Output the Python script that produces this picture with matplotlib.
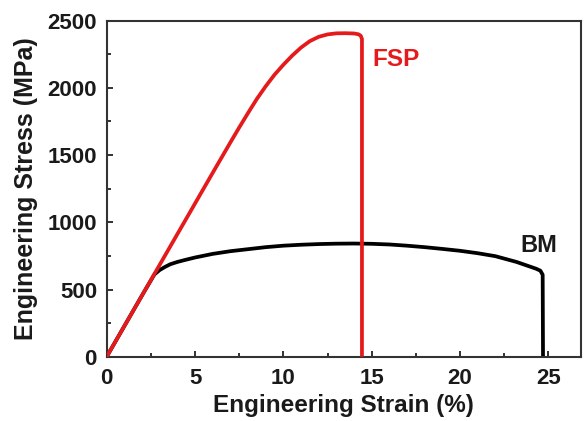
import matplotlib
matplotlib.use("Agg")
import matplotlib.pyplot as plt
from matplotlib.ticker import MultipleLocator

plt.rcParams['font.family'] = ['Liberation Sans', 'DejaVu Sans']
plt.rcParams['font.weight'] = 'bold'

# FSP curve (strain %, stress MPa)
fsp_strain = [0, 2, 4, 6, 7, 7.5, 8, 8.5, 9, 9.5, 10, 10.5, 11, 11.5, 12, 12.5, 13, 13.5, 14, 14.25, 14.38, 14.45, 14.45]
fsp_stress = [0, 456, 912, 1368, 1594, 1705, 1813, 1918, 2012, 2098, 2172, 2240, 2300, 2348, 2380, 2398, 2406, 2407, 2405, 2399, 2388, 2365, 0]

# BM curve
bm_strain = [0, 1, 2, 2.7, 3.0, 3.3, 3.6, 4, 4.5, 5, 6, 7, 8, 9, 10, 11, 12, 13, 14, 15, 16, 17, 18, 19, 20, 21, 22, 23.2, 24.3, 24.55, 24.68, 24.7]
bm_stress = [0, 228, 456, 612, 645, 668, 688, 705, 722, 738, 765, 785, 800, 815, 826, 833, 838, 841, 842, 840, 835, 826, 815, 802, 788, 770, 748, 705, 655, 640, 610, 0]

xticks = [0, 5, 10, 15, 20, 25]
yticks = [0, 500, 1000, 1500, 2000, 2500]

red = '#e41a1c'

fig = plt.figure(figsize=(5.84, 4.21), dpi=100)
ax = fig.add_axes([106.7/584, 1 - 356.7/421, (581 - 106.7)/584, (356.7 - 20.7)/421])

ax.plot(bm_strain, bm_stress, color='black', lw=2.7, solid_joinstyle='round', solid_capstyle='butt', zorder=2)
ax.plot(fsp_strain, fsp_stress, color=red, lw=2.7, solid_joinstyle='round', solid_capstyle='butt', zorder=3)

ax.set_xlim(0, 26.85)
ax.set_ylim(0, 2500)
ax.set_xticks(xticks)
ax.set_yticks(yticks)
ax.xaxis.set_minor_locator(MultipleLocator(2.5))
ax.yaxis.set_minor_locator(MultipleLocator(250))
ax.tick_params(which='both', direction='in', width=1.3, colors='#222222', labelcolor='#1a1a1a')
ax.tick_params(which='major', length=4.5, labelsize=16)
ax.tick_params(which='minor', length=3)
ax.tick_params(axis='x', pad=8)
ax.tick_params(axis='y', pad=7)
for lbl in ax.get_xticklabels() + ax.get_yticklabels():
    lbl.set_fontweight('bold')
for s in ax.spines.values():
    s.set_linewidth(1.5)
    s.set_color('#333333')

ax.set_xlabel('Engineering Strain (%)', fontsize=17.5, fontweight='bold', color='#1a1a1a', labelpad=4)
ax.set_ylabel('Engineering Stress (MPa)', fontsize=18, fontweight='bold', color='#1a1a1a', labelpad=7)

ax.text(15.05, 2210, 'FSP', color=red, fontsize=17.5, fontweight='bold', ha='left', va='center')
ax.text(23.4, 826, 'BM', color='#1a1a1a', fontsize=17, fontweight='bold', ha='left', va='center')

fig.savefig('out.png', dpi=100)
